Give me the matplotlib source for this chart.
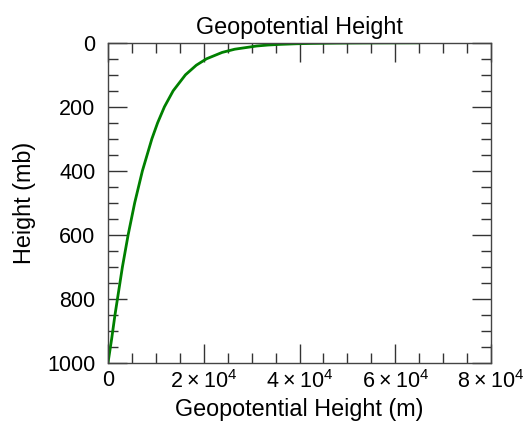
import numpy as np
import matplotlib
matplotlib.use("Agg")
import matplotlib.pyplot as plt
from matplotlib.ticker import MultipleLocator, FixedLocator

plt.rcParams['font.family'] = ['Liberation Sans', 'DejaVu Sans']
plt.rcParams['mathtext.fontset'] = 'custom'
plt.rcParams['mathtext.rm'] = 'Liberation Sans'

# pressure levels (mb) and geopotential height (m)
pressure = [1000, 925, 850, 700, 600, 500, 400, 300, 250, 200, 150, 100,
            70, 50, 30, 20, 10, 7, 5, 3, 2, 1, 0.5, 0.3, 0.1]
height = [0, 762, 1457, 3012, 4206, 5574, 7185, 9164, 10363, 11784, 13608,
          16180, 18442, 20576, 23849, 26481, 31055, 33400, 35800, 39400,
          42400, 47800, 53500, 57600, 64700]

x_ticks = [0, 20000, 40000, 60000, 80000]
x_labels = ['0', '2\u2009×\u200910$^{4}$', '4\u2009×\u200910$^{4}$',
            '6\u2009×\u200910$^{4}$', '8\u2009×\u200910$^{4}$']
y_ticks = [0, 200, 400, 600, 800, 1000]

fig = plt.figure(figsize=(5.32, 4.28), dpi=100)
ax = fig.add_axes([0.203, 0.152, 0.720, 0.748])

ax.plot(height, pressure, color='#008000', linewidth=2)

ax.set_xlim(0, 80000)
ax.set_ylim(1000, 0)
ax.xaxis.set_major_locator(FixedLocator(x_ticks))
ax.set_xticklabels(x_labels)
ax.xaxis.set_minor_locator(MultipleLocator(5000))
ax.yaxis.set_major_locator(FixedLocator(y_ticks))
ax.yaxis.set_minor_locator(MultipleLocator(50))

ax.tick_params(which='both', direction='in', top=True, right=True,
               colors='#333333', labelcolor='black', labelsize=15.5, width=1)
ax.tick_params(which='major', length=14)
ax.tick_params(which='minor', length=7)
ax.tick_params(axis='y', which='major', pad=9)
ax.tick_params(axis='x', which='major', pad=5)
for s in ax.spines.values():
    s.set_color('#444444')
    s.set_linewidth(1)

ax.set_title('Geopotential Height', fontsize=16.8, pad=6)
ax.set_xlabel('Geopotential Height (m)', fontsize=16.8, labelpad=3.5)
ax.set_ylabel('Height (mb)', fontsize=16.8, labelpad=8)

fig.savefig('out.png', dpi=100)
